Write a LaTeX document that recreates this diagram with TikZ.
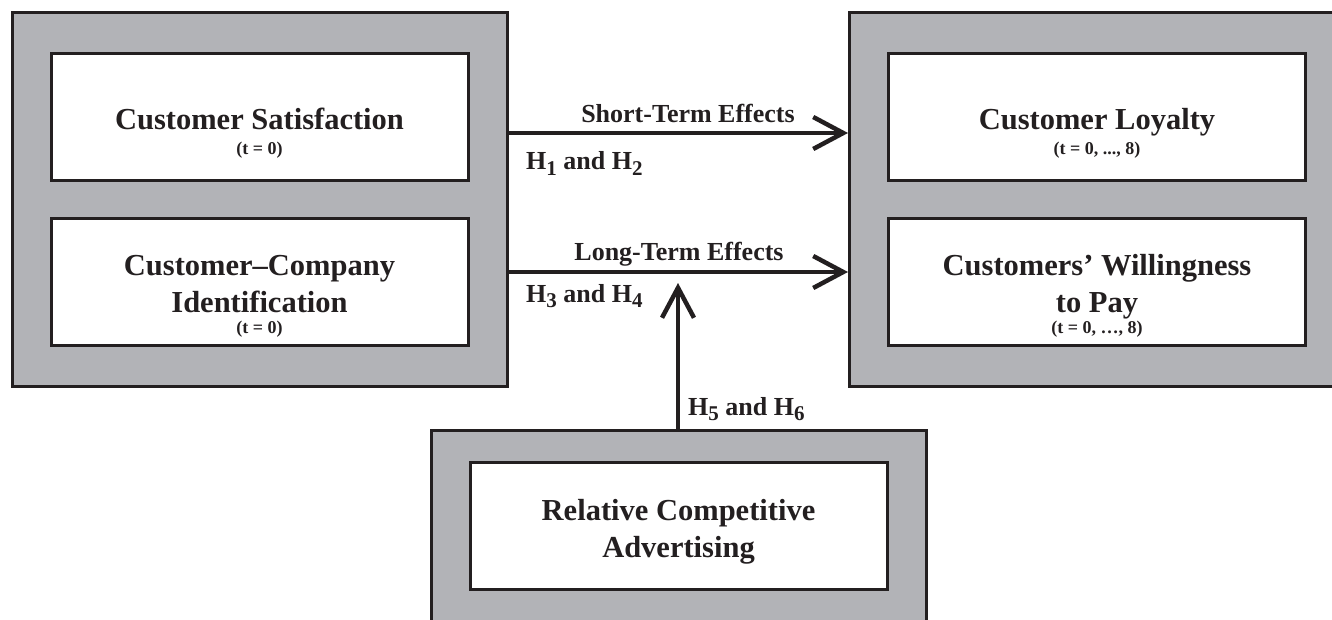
\documentclass[tikz,border=0pt]{standalone}
\usepackage{fontspec}
\setmainfont{Liberation Serif}
\usetikzlibrary{arrows.meta}
\definecolor{panelgray}{RGB}{178,179,183}
\definecolor{inkblack}{RGB}{35,31,32}
\newcommand{\hsub}[1]{\raisebox{-5.5pt}{\fontsize{21}{22}\selectfont #1}}

\begin{document}
\begin{tikzpicture}[x=1pt, y=-1pt,
    outerbox/.style={draw=inkblack, fill=panelgray, line width=3pt, minimum width=495pt, minimum height=373pt, inner sep=0pt},
    innerbox/.style={draw=inkblack, fill=white, line width=3pt, minimum width=417pt, minimum height=127pt, inner sep=0pt},
    title/.style={font=\fontsize{30.5}{37}\selectfont\bfseries, text=inkblack, inner sep=0pt, anchor=base, align=center},
    note/.style={font=\fontsize{18}{20}\selectfont\bfseries, text=inkblack, inner sep=0pt, anchor=base},
    hyp/.style={font=\fontsize{26}{30}\selectfont\bfseries, text=inkblack, inner sep=0pt, anchor=base west},
    effect/.style={draw=inkblack, line width=4.5pt, -{Straight Barb[length=30pt, width=32pt]}}]
    \useasboundingbox (0,0) rectangle (1332,620);
    \clip (0,0) rectangle (1332,620);
    % grey panels
    \node[outerbox] (leftPanel) at (259.5,199.5) {};
    \node[outerbox] (rightPanel) at (1097,199.5) {};
    \node[outerbox] (advPanel) at (678.5,616.5) {};
    % white boxes
    \node[innerbox] (sat) at (259.5,117.5) {};
    \node[innerbox] (ident) at (259.5,282) {};
    \node[innerbox] (loy) at (1097,117.5) {};
    \node[innerbox] (wtp) at (1097,282) {};
    \node[innerbox] (adv) at (678.5,525.5) {};
    % texts (base = last line)
    \node[title] (satT) at (259.5,130) {Customer Satisfaction};
    \node[note] (satN) at (259.5,155) {(t = 0)};
    \node[title] (identT) at (259.5,312) {Customer--Company\\Identification};
    \node[note] (identN) at (259.5,333) {(t = 0)};
    \node[title] (loyT) at (1097,130) {Customer Loyalty};
    \node[note] (loyN) at (1097,155) {(t = 0, ..., 8)};
    \node[title] (wtpT) at (1097,312) {Customers’ Willingness\\to Pay};
    \node[note] (wtpN) at (1097,333) {(t = 0, …, 8)};
    \node[title] (advT) at (678.5,557) {Relative Competitive\\Advertising};
    % effects
    \coordinate (moderated) at (678,283);
    \draw[effect] (leftPanel.east |- 0,133) -- (rightPanel.west |- 0,133);
    \draw[effect] (leftPanel.east |- 0,272) -- (rightPanel.west |- 0,272);
    \draw[effect] (advPanel.north -| moderated) -- (moderated);
    \node[hyp, anchor=base] (shortLbl) at (688,123) {Short-Term Effects};
    \node[hyp, anchor=base] (longLbl) at (679,260) {Long-Term Effects};
    \node[hyp] (hypA) at (526,170) {H\hsub{1} and H\hsub{2}};
    \node[hyp] (hypB) at (526,302) {H\hsub{3} and H\hsub{4}};
    \node[hyp] (hypC) at (688,415) {H\hsub{5} and H\hsub{6}};
\end{tikzpicture}
\end{document}
